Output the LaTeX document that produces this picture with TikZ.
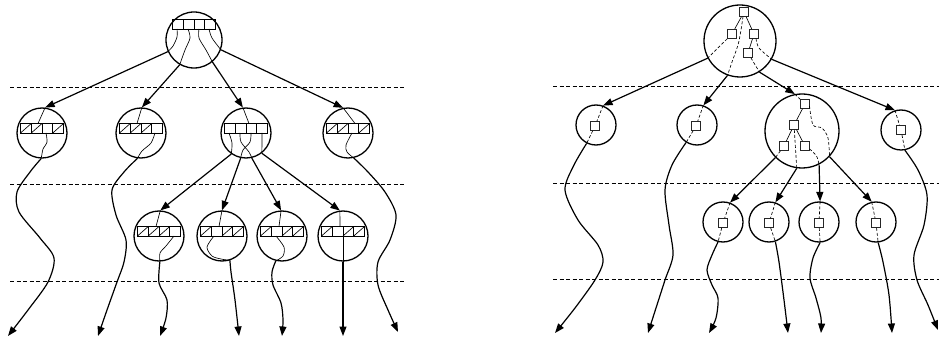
\documentclass[tikz,border=0pt]{standalone}
\usetikzlibrary{arrows.meta}

% a row of four slots; flag 1 = slot crossed by a diagonal
\newcommand{\slotrow}[3]{%
  \foreach \f [count=\i from 0] in {#3} {%
    \pgfmathsetmacro{\xl}{#1+10.75*\i}%
    \draw[cellline] (\xl,#2) rectangle ++(10.75,9.5);
    \ifnum\f=1 \draw[cellline] (\xl,#2+9.5) -- ++(10.75,-9.5);\fi
  }}

\tikzset{
  rootring/.style={circle, draw, line width=1.3pt, inner sep=0pt, minimum size=56pt},
  ring/.style={circle, draw, line width=1.3pt, inner sep=0pt, minimum size=50pt},
  smallring/.style={circle, draw, line width=1.3pt, inner sep=0pt, minimum size=40pt},
  hugering/.style={circle, draw, line width=1.3pt, inner sep=0pt, minimum size=72pt},
  bigring/.style={circle, draw, line width=1.3pt, inner sep=0pt, minimum size=74pt},
  sq/.style={draw=black!85, fill=white, line width=0.7pt, minimum size=9pt, inner sep=0pt},
  edge/.style={line width=1.2pt, -{Triangle[length=9.5pt,width=7pt]}},
  lane/.style={line width=1.2pt, -{Triangle[length=9.5pt,width=7pt]}},
  wire/.style={line width=0.65pt},
  dwire/.style={line width=0.65pt, dash pattern=on 3pt off 2pt},
  level/.style={line width=0.65pt, dash pattern=on 4pt off 2.5pt},
  cellline/.style={line width=0.65pt},
}

\begin{document}
\begin{tikzpicture}[x=1pt,y=-1pt]
\useasboundingbox (0,0) rectangle (939,339);

% level separators
\foreach \yy in {87,184,281} \draw[level] (10,\yy) -- (405,\yy);
\foreach \yy in {86,183,279} \draw[level] (553,\yy) -- (939,\yy);

% ================= left tree: slot arrays =================
\node[rootring] (R) at (194,40) {};
\node[ring] (A1) at (42,133) {};
\node[ring] (A2) at (141,133) {};
\node[ring] (A3) at (246,133) {};
\node[ring] (A4) at (348,133) {};
\node[ring] (B1) at (159,236) {};
\node[ring] (B2) at (222,236) {};
\node[ring] (B3) at (282,236) {};
\node[ring] (B4) at (343,236) {};

\slotrow{172.5}{19.5}{0,0,0,0}
\slotrow{20.5}{123.5}{1,1,0,1}
\slotrow{119.5}{123.5}{1,1,1,0}
\slotrow{224.5}{123.5}{0,0,0,0}
\slotrow{326.5}{123.5}{1,1,0,1}
\slotrow{137.5}{226.5}{1,1,1,0}
\slotrow{200.5}{226.5}{1,0,1,1}
\slotrow{260.5}{226.5}{1,0,1,1}
\slotrow{321.5}{226.5}{1,0,1,1}

% root wires
\draw[wire] plot[smooth] coordinates {(177,29) (177,37) (173,46) (R.204)};
\draw[wire] plot[smooth] coordinates {(188,29) (190,38) (185,50) (R.240)};
\draw[wire] plot[smooth] coordinates {(199,29) (199,38) (206,50) (R.310)};
\draw[wire] plot[smooth] coordinates {(209,29) (212,38) (R.340)};
\draw[edge] (R.204) -- (A1.83);
\draw[edge] (R.240) -- (A2.88);
\draw[edge] (R.310) -- (A3.97);
\draw[edge] (R.340) -- (A4.101);

% first level
\draw[wire] (A1.83) -- (38,123.5);
\draw[wire] plot[smooth] coordinates {(46,133) (47,142) (43,149) (42,154) (A1.268)};
\draw[lane] plot[smooth] coordinates {(A1.268) (30,172) (17,192) (19,212) (40,238) (54,258) (48,282) (28,310) (8,336)};

\draw[wire] (A2.88) -- (137,123.5);
\draw[wire] plot[smooth] coordinates {(155,133) (151,143) (142,151) (A2.262)};
\draw[lane] plot[smooth] coordinates {(A2.262) (124,172) (112,190) (116,215) (126,240) (124,262) (117,282) (107,310) (98,336)};

\draw[wire] (A3.97) -- (249,123.5);
\draw[wire] plot[smooth] coordinates {(229,133) (232,143) (A3.235)};
\draw[wire] plot[smooth] coordinates {(240,133) (241,142) (249,152) (A3.283)};
\draw[wire] plot[smooth] coordinates {(251,133) (250,142) (243,150) (A3.258)};
\draw[wire] plot[smooth] coordinates {(262,133) (262,143) (A3.308)};
\draw[edge] (A3.235) -- (B1.87);
\draw[edge] (A3.258) -- (B2.90);
\draw[edge] (A3.283) -- (B3.92);
\draw[edge] (A3.308) -- (B4.97);

\draw[wire] (A4.101) -- (355,123.5);
\draw[wire] plot[smooth] coordinates {(352,133) (346,145) (347,152) (A4.283)};
\draw[lane] plot[smooth] coordinates {(A4.283) (368,172) (385,192) (396,215) (390,240) (378,262) (378,285) (388,310) (398,332)};

% second level
\draw[wire] (B1.87) -- (156,226.5);
\draw[wire] plot[smooth] coordinates {(174,236) (166,246) (160,253) (B1.272)};
\draw[lane] plot[smooth] coordinates {(B1.272) (159,283) (167,300) (166,318) (160,336)};

\draw[wire] (B2.90) -- (219,226.5);
\draw[wire] plot[smooth] coordinates {(214,236) (207,247) (212,256) (221,259) (B2.288)};
\draw[lane] plot[smooth] coordinates {(B2.288) (231,272) (235,300) (239,336)};

\draw[wire] (B3.92) -- (279,226.5);
\draw[wire] plot[smooth] coordinates {(276,236) (284,247) (283,256) (B3.256)};
\draw[lane] plot[smooth] coordinates {(B3.256) (272,272) (273,285) (281,303) (283,320) (282,336)};

\draw[wire] (B4.97) -- (340,226.5);
\draw[wire] (343,236) -- (B4.270);
\draw[lane] (B4.270) -- (343,336);

% ================= right tree: nested squares =================
\node[hugering] (S) at (740,41) {};
\node[sq] (s1) at (744,12) {};
\node[sq] (s2) at (732,34) {};
\node[sq] (s3) at (754,34) {};
\node[sq] (s4) at (748,53) {};
\draw[wire] (s1) -- (s2);
\draw[wire] (s1) -- (s3);
\draw[wire] (s3) -- (s4);
\draw[dwire] (s2) -- (S.208);
\draw[dwire] plot[smooth] coordinates {(743,16.5) (741,30) (738,45) (732,62) (S.250)};
\draw[dwire] (s4) -- (S.302);
\draw[dwire] plot[smooth] coordinates {(756,38.5) (759,48) (S.330)};

\node[smallring] (C1) at (596,125) {};
\node[smallring] (C2) at (697,125) {};
\node[bigring] (C3) at (802,131) {};
\node[smallring] (C4) at (901,130) {};
\draw[edge] (S.208) -- (C1.70);
\draw[edge] (S.250) -- (C2.72);
\draw[edge] (S.302) -- (C3.101);
\draw[edge] (S.330) -- (C4.107);

\node[sq] (c1s) at (595,126) {};
\draw[dwire] (C1.70) -- (c1s);
\draw[dwire] (c1s) -- (C1.243);
\draw[lane] plot[smooth] coordinates {(C1.243) (574,165) (565,190) (578,220) (598,245) (603,262) (595,280) (575,308) (555,333)};

\node[sq] (c2s) at (696,126) {};
\draw[dwire] (C2.72) -- (c2s);
\draw[dwire] (c2s) -- (C2.238);
\draw[lane] plot[smooth] coordinates {(C2.238) (672,165) (665,190) (669,225) (673,255) (665,280) (656,308) (648,333)};

\node[sq] (c4s) at (901,130) {};
\draw[dwire] (C4.107) -- (c4s);
\draw[dwire] (c4s) -- (C4.281);
\draw[lane] plot[smooth] coordinates {(C4.281) (918,170) (927,195) (924,225) (914,255) (917,280) (928,305) (938,330)};

% big inner node
\node[sq] (t3) at (805,104) {};
\node[sq] (m3) at (794,125) {};
\node[sq] (l3) at (784,146) {};
\node[sq] (r3) at (805,146) {};
\draw[wire] (t3) -- (m3);
\draw[wire] (m3) -- (l3);
\draw[wire] (m3) -- (r3);
\draw[dwire] (C3.101) -- (t3);
\draw[dwire] (l3) -- (C3.225);
\draw[dwire] (m3) -- (C3.262);
\draw[dwire] plot[smooth] coordinates {(809.5,149) (813,152) (817,157) (C3.297)};
\draw[dwire] plot[smooth] coordinates {(809.5,106) (813,125) (822,128) (828,138) (C3.317)};

\node[smallring] (D1) at (723,222) {};
\node[smallring] (D2) at (769,222) {};
\node[smallring] (D3) at (819,222) {};
\node[smallring] (D4) at (876,222) {};
\draw[edge] (C3.225) -- (D1.70);
\draw[edge] (C3.262) -- (D2.72);
\draw[edge] (C3.297) -- (D3.87);
\draw[edge] (C3.317) -- (D4.102);

\node[sq] (d1s) at (723,223) {};
\draw[dwire] (D1.70) -- (d1s);
\draw[dwire] (d1s) -- (D1.256);
\draw[lane] plot[smooth] coordinates {(D1.256) (712,255) (707,270) (712,285) (718,298) (716,318) (709,333)};

\node[sq] (d2s) at (769,223) {};
\draw[dwire] (D2.72) -- (d2s);
\draw[dwire] (d2s) -- (D2.288);
\draw[lane] plot[smooth] coordinates {(D2.288) (779,262) (784,300) (788,333)};

\node[sq] (d3s) at (819,223) {};
\draw[dwire] (D3.87) -- (d3s);
\draw[dwire] (d3s) -- (D3.273);
\draw[lane] plot[smooth] coordinates {(D3.273) (813,258) (810,278) (816,298) (821,318) (821,333)};

\node[sq] (d4s) at (876,223) {};
\draw[dwire] (D4.102) -- (d4s);
\draw[dwire] (d4s) -- (D4.276);
\draw[lane] plot[smooth] coordinates {(D4.276) (883,262) (889,295) (892,333)};
\end{tikzpicture}
\end{document}
